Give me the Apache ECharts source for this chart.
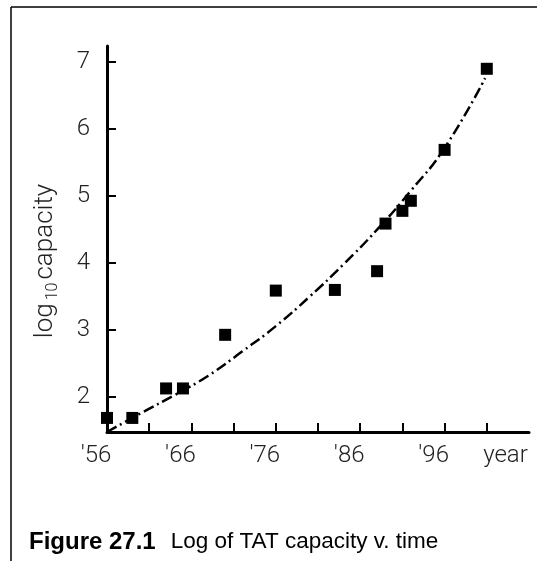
<!DOCTYPE html>
<html>
<head>
<meta charset="utf-8">
<script src="https://cdn.jsdelivr.net/npm/echarts@6/dist/echarts.min.js"></script>
<style>
  html, body { margin: 0; padding: 0; background: #fff; }
  #main { width: 537px; height: 561px; }
</style>
</head>
<body>
<div id="main"></div>
<script>
// measured points (year, log10 capacity)
const years = [56, 59, 63, 65, 70, 76, 83, 88, 89, 91, 92, 96, 101];
const capacity = [1.69, 1.69, 2.13, 2.13, 2.93, 3.59, 3.60, 3.88, 4.59, 4.78, 4.93, 5.69, 6.90];

// trend curve
const trendYears = [56, 60, 64, 68, 72, 76, 80, 84, 88, 92, 96, 100.8];
const trendValues = [1.48, 1.76, 2.03, 2.32, 2.68, 3.06, 3.5, 3.98, 4.5, 5.08, 5.72, 6.76];

const xTicks = [61, 66, 71, 76, 81, 86, 91, 96, 101];
const xLabels = [56, 66, 76, 86, 96, 106];
const yTicks = [2, 3, 4, 5, 6, 7];

const font = '"Liberation Sans", Arial, sans-serif';
const thin = 'Roboto, "Liberation Sans", sans-serif';

const points = years.map((y, i) => [y, capacity[i]]);
const trend = trendYears.map((y, i) => [y, trendValues[i]]);

echarts.init(document.getElementById('main')).setOption({
  animation: false,
  backgroundColor: '#fff',
  title: {
    text: '{b|Figure 27.1}{n|Log of TAT capacity v. time}',
    left: 29,
    top: 530,
    padding: 0,
    textStyle: {
      fontWeight: 'normal',
      rich: {
        b: { fontFamily: font, fontSize: 24, fontWeight: 'bold', color: '#000', padding: [0, 15, 0, 0] },
        n: { fontFamily: font, fontSize: 22.5, fontWeight: 'normal', color: '#000' }
      }
    }
  },
  graphic: [
    { type: 'line', shape: { x1: 11, y1: 7, x2: 537, y2: 7 }, style: { stroke: '#000', lineWidth: 1.5 } },
    { type: 'line', shape: { x1: 11, y1: 7, x2: 11, y2: 561 }, style: { stroke: '#000', lineWidth: 1.5 } }
  ],
  grid: { left: 107, right: 8, top: 46, bottom: 129 },
  xAxis: {
    type: 'value',
    min: 56,
    max: 106,
    splitLine: { show: false },
    axisLine: { onZero: false, lineStyle: { color: '#000', width: 3 } },
    axisTick: {
      show: true,
      inside: true,
      length: 9,
      customValues: xTicks,
      lineStyle: { color: '#000', width: 2 }
    },
    axisLabel: {
      customValues: xLabels,
      margin: 12,
      formatter: function (v) {
        return v === 106 ? '{e|year}' : "{y|'" + v + '}';
      },
      rich: {
        y: { fontFamily: thin, fontWeight: 300, fontSize: 24, color: '#222', padding: [0, 22, 0, 0] },
        e: { fontFamily: thin, fontWeight: 300, fontSize: 24, color: '#222', padding: [0, 47, 0, 0] }
      }
    }
  },
  yAxis: {
    type: 'value',
    min: 1.48,
    max: 7.24,
    splitLine: { show: false },
    axisLine: { onZero: false, lineStyle: { color: '#000', width: 3 } },
    axisTick: {
      show: true,
      inside: true,
      length: 9,
      customValues: yTicks,
      lineStyle: { color: '#000', width: 2 }
    },
    axisLabel: {
      customValues: yTicks,
      margin: 17,
      fontFamily: thin,
      fontWeight: 300,
      fontSize: 24,
      color: '#222',
      padding: [0, 0, 8, 0]
    },
    name: '{a|log}{s|10}{a|capacity}',
    nameLocation: 'middle',
    nameRotate: 90,
    nameGap: 46,
    nameTextStyle: {
      padding: [0, 44, 0, 0],
      rich: {
        a: { fontFamily: thin, fontWeight: 300, fontSize: 26, color: '#222' },
        s: { fontFamily: thin, fontWeight: 300, fontSize: 16, color: '#222', padding: [16, 3, 0, 3] }
      }
    }
  },
  series: [
    {
      type: 'line',
      data: trend,
      smooth: true,
      symbol: 'none',
      lineStyle: { color: '#000', width: 2.5, type: [11, 4, 2, 4] },
      z: 2
    },
    {
      type: 'scatter',
      data: points,
      symbol: 'rect',
      symbolSize: 12,
      itemStyle: { color: '#000', opacity: 1 },
      z: 3
    }
  ]
});
</script>
</body>
</html>
